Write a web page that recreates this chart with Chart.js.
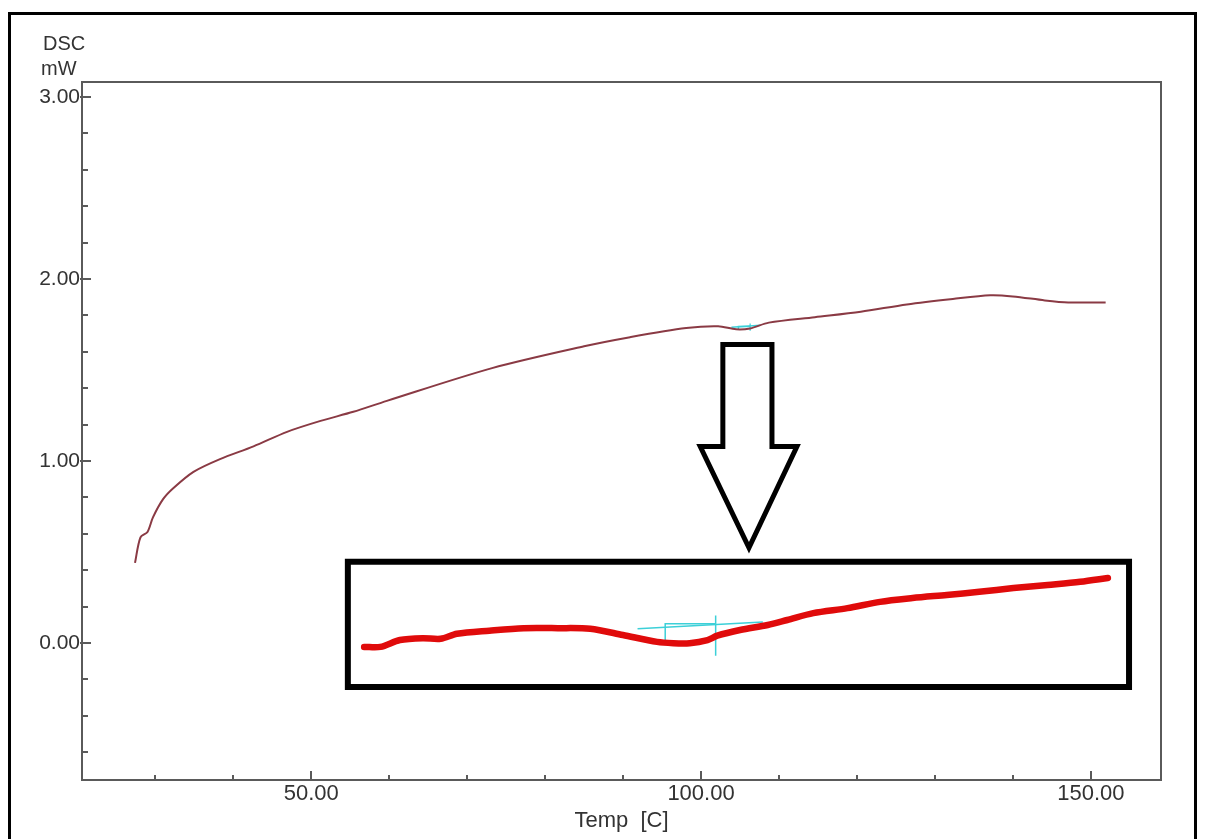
<!DOCTYPE html>
<html>
<head>
<meta charset="utf-8">
<title>DSC</title>
<script src="https://cdn.jsdelivr.net/npm/chart.js@4.4.1/dist/chart.umd.min.js"></script>
<style>
  html, body { margin: 0; padding: 0; background: #fff; overflow: hidden; }
  #wrap { position: relative; width: 1209px; height: 839px; }
  #frame { position: absolute; left: 8px; top: 12px; width: 1189px; height: 900px; border: 3px solid #000; box-sizing: border-box; }
  #dsc { position: absolute; left: 0; top: 0; }
</style>
</head>
<body>
<div id="wrap">
  <div id="frame"></div>
  <canvas id="dsc" width="1209" height="839"></canvas>
</div>
<script>
// main DSC trace (temperature in C, heat flow in mW)
const tempC = [27.4, 28.1, 29.0, 29.7, 31.0, 32.3, 34.9, 38.3, 42.6, 46.9, 51.2, 55.4, 59.7,
  73.2, 85.0, 90.9, 98.1, 102.2, 104.5, 106.3, 108.7, 114.6, 120.5, 126.4, 132.3, 137.1, 140.0, 144.1, 147.1, 151.9];
const dscMw = [0.44, 0.58, 0.61, 0.69, 0.79, 0.85, 0.94, 1.01, 1.08, 1.16, 1.22, 1.27, 1.33,
  1.51, 1.63, 1.68, 1.73, 1.74, 1.723, 1.728, 1.76, 1.79, 1.82, 1.86, 1.89, 1.91, 1.904, 1.882, 1.871, 1.871];

// small cyan analysis marks on the main trace
const markBaseX = [103.9, 107.6];
const markBaseY = [1.735, 1.745];
const markStepX = [104.8, 104.8, 106.3];
const markStepY = [1.72, 1.738, 1.738];
const markCrossX = [106.3, 106.3];
const markCrossY = [1.715, 1.755];

// magnified view (inset) of the same region
const insetTemp = [85.0, 86.0, 87.2, 88.6, 89.7, 90.7, 92.7, 94.8, 96.9, 98.9, 100.9, 103.0, 104.0, 105.0,
  106.1, 106.7, 108.1, 109.8, 111.0, 112.6, 114.7, 116.7, 118.7, 120.8, 122.8, 124.9, 127.0, 129.0, 130.7];
const insetMw = [1.664, 1.664, 1.675, 1.678, 1.677, 1.685, 1.690, 1.694, 1.694, 1.693, 1.683, 1.672, 1.670, 1.670,
  1.675, 1.682, 1.691, 1.699, 1.707, 1.718, 1.726, 1.736, 1.742, 1.747, 1.752, 1.758, 1.763, 1.768, 1.774];
const insetBaseX = [101.8, 109.5];
const insetBaseY = [1.693, 1.704];
const insetStepX = [103.5, 103.5, 106.6];
const insetStepY = [1.675, 1.701, 1.701];
const insetCrossX = [106.6, 106.6];
const insetCrossY = [1.714, 1.650];
const insetTempRange = [84, 132];
const insetMwRange = [1.60, 1.80];

// where the inset box and arrow sit, in main axis units
const boxTemp = [54.7, 154.9, 154.9, 54.7, 54.7];
const boxMw = [0.446, 0.446, -0.242, -0.242, 0.446];
const arrowTemp = [102.8, 109.1, 109.1, 112.3, 106.15, 99.9, 102.8, 102.8];
const arrowMw = [1.64, 1.64, 1.079, 1.079, 0.523, 1.079, 1.079, 1.64];

// axes
const xRange = [20.6, 159.0];
const yRange = [-0.753, 3.082];
const xMajor = [50, 100, 150];
const xMinor = [30, 40, 60, 70, 80, 90, 110, 120, 130, 140];
const yMajor = [0, 1, 2, 3];
const yMinor = [-0.6, -0.4, -0.2, 0.2, 0.4, 0.6, 0.8, 1.2, 1.4, 1.6, 1.8, 2.2, 2.4, 2.6, 2.8];

const pts = (xs, ys) => xs.map((x, i) => ({ x: x, y: ys[i] }));
const FONT = '"Liberation Sans", Arial, sans-serif';
const AXIS = '#5a5a5a';
const TEXT = '#333';
const CYAN = '#3cd0d8';

// map inset units onto the box drawn in main units
const bx0 = boxTemp[0], bx1 = boxTemp[1], by0 = boxMw[2], by1 = boxMw[0];
const ixSpan = insetTempRange[1] - insetTempRange[0];
const iySpan = insetMwRange[1] - insetMwRange[0];
const xiMin = insetTempRange[0] + (xRange[0] - bx0) / (bx1 - bx0) * ixSpan;
const xiMax = insetTempRange[0] + (xRange[1] - bx0) / (bx1 - bx0) * ixSpan;
const yiMin = insetMwRange[0] + (yRange[0] - by0) / (by1 - by0) * iySpan;
const yiMax = insetMwRange[0] + (yRange[1] - by0) / (by1 - by0) * iySpan;

function line(data, color, width, extra) {
  return Object.assign({
    data: data, showLine: true, pointRadius: 0, borderColor: color, borderWidth: width,
    fill: false, tension: 0
  }, extra || {});
}

const framePlugin = {
  id: 'framePlugin',
  beforeDatasetsDraw(chart) {
    const ctx = chart.ctx, a = chart.chartArea;
    const xs = chart.scales.x, ys = chart.scales.y;
    ctx.save();
    ctx.strokeStyle = AXIS;
    ctx.lineWidth = 2;
    ctx.strokeRect(a.left, a.top, a.right - a.left, a.bottom - a.top);
    ctx.beginPath();
    yMajor.forEach(v => { const p = Math.round(ys.getPixelForValue(v)); ctx.moveTo(a.left - 2, p); ctx.lineTo(a.left + 9, p); });
    yMinor.forEach(v => { const p = Math.round(ys.getPixelForValue(v)); ctx.moveTo(a.left, p); ctx.lineTo(a.left + 6, p); });
    xMajor.forEach(v => { const p = Math.round(xs.getPixelForValue(v)); ctx.moveTo(p, a.bottom); ctx.lineTo(p, a.bottom - 9); });
    xMinor.forEach(v => { const p = Math.round(xs.getPixelForValue(v)); ctx.moveTo(p, a.bottom); ctx.lineTo(p, a.bottom - 5); });
    ctx.stroke();
    ctx.restore();
  },
  afterDraw(chart) {
    const ctx = chart.ctx, a = chart.chartArea;
    ctx.save();
    ctx.fillStyle = TEXT;
    ctx.font = '20px ' + FONT;
    ctx.textAlign = 'left';
    ctx.textBaseline = 'alphabetic';
    ctx.fillText('DSC', a.left - 39, 50);
    ctx.fillText('mW', a.left - 41, 75);
    ctx.font = '22px ' + FONT;
    ctx.textAlign = 'center';
    ctx.fillText('Temp  [C]', (a.left + a.right) / 2, a.bottom + 47);
    ctx.restore();
  }
};

new Chart(document.getElementById('dsc').getContext('2d'), {
  type: 'scatter',
  data: {
    datasets: [
      line(pts(tempC, dscMw), '#8a3a44', 2, { tension: 0.3 }),
      line(pts(markBaseX, markBaseY), CYAN, 1.5),
      line(pts(markStepX, markStepY), CYAN, 1.5),
      line(pts(markCrossX, markCrossY), CYAN, 1.2),
      line(pts(arrowTemp, arrowMw), '#000', 5, { borderJoinStyle: 'miter', borderCapStyle: 'square' }),
      line(pts(boxTemp, boxMw), '#000', 6, { borderJoinStyle: 'miter', borderCapStyle: 'square' }),
      line(pts(insetTemp, insetMw), '#e00b0b', 6.5, { xAxisID: 'xi', yAxisID: 'yi', tension: 0.3, borderCapStyle: 'round' }),
      line(pts(insetBaseX, insetBaseY), CYAN, 1.5, { xAxisID: 'xi', yAxisID: 'yi' }),
      line(pts(insetStepX, insetStepY), CYAN, 1.5, { xAxisID: 'xi', yAxisID: 'yi' }),
      line(pts(insetCrossX, insetCrossY), CYAN, 1.5, { xAxisID: 'xi', yAxisID: 'yi' })
    ]
  },
  options: {
    responsive: false,
    animation: false,
    devicePixelRatio: 1,
    layout: { padding: { left: 10, top: 82, right: 48, bottom: 0 } },
    plugins: { legend: { display: false }, tooltip: { enabled: false } },
    scales: {
      x: {
        type: 'linear', position: 'bottom', min: xRange[0], max: xRange[1],
        grid: { display: false, drawTicks: false }, border: { display: false },
        afterBuildTicks: s => { s.ticks = xMajor.map(v => ({ value: v })); },
        afterFit: s => { s.height = 59; },
        ticks: { padding: 1, color: TEXT, font: { size: 22, family: FONT }, callback: v => Number(v).toFixed(2), maxRotation: 0 }
      },
      y: {
        type: 'linear', position: 'left', min: yRange[0], max: yRange[1],
        grid: { display: false, drawTicks: false }, border: { display: false },
        afterBuildTicks: s => { s.ticks = yMajor.map(v => ({ value: v })); },
        afterFit: s => { s.width = 72; },
        ticks: { padding: 2, color: TEXT, font: { size: 21, family: FONT }, callback: v => Number(v).toFixed(2) }
      },
      xi: { type: 'linear', display: false, min: xiMin, max: xiMax },
      yi: { type: 'linear', display: false, min: yiMin, max: yiMax }
    }
  },
  plugins: [framePlugin]
});
</script>
</body>
</html>
